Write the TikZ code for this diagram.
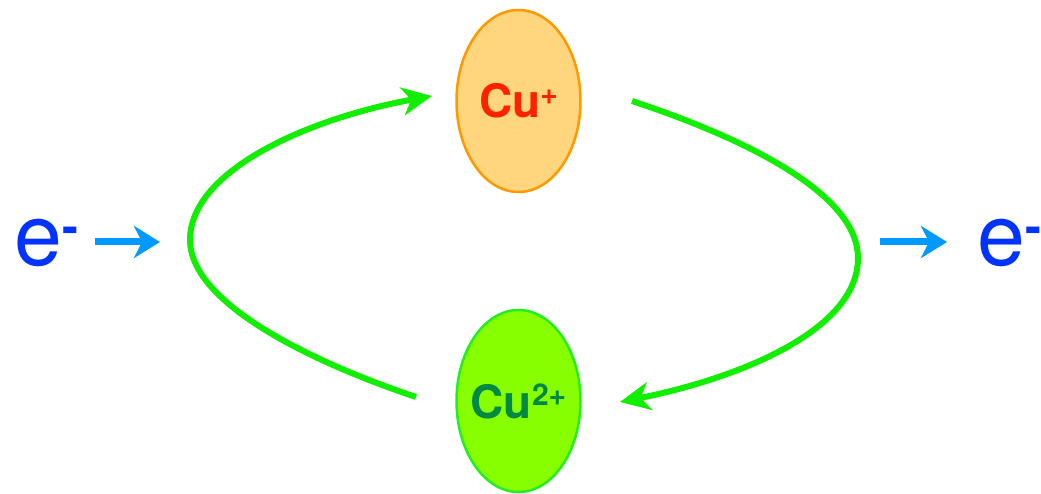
\documentclass[tikz,border=0pt]{standalone}
\usepackage{fontspec}
\setmainfont{TeX Gyre Heros}
\usetikzlibrary{arrows.meta,shapes.geometric}
\definecolor{orangeline}{HTML}{FF9900}
\definecolor{orangefill}{HTML}{FFD57D}
\definecolor{cuplus}{HTML}{FF2200}
\definecolor{greenfill}{HTML}{88FF00}
\definecolor{greenline}{HTML}{22EE22}
\definecolor{cutwo}{HTML}{008844}
\definecolor{arcgreen}{HTML}{11EE00}
\definecolor{eblue}{HTML}{0033FF}
\definecolor{arrblue}{HTML}{0099FF}
\newcommand{\emin}{{\fontsize{48}{48}\selectfont\bfseries\raisebox{23pt}{-}}}
\newcommand{\ionsup}[1]{{\fontsize{30}{30}\selectfont\bfseries\raisebox{13pt}{#1}}}
\tikzset{
  ion/.style={ellipse, minimum width=124pt, minimum height=182pt, line width=2.5pt, inner sep=0pt, font=\fontsize{46}{46}\selectfont\bfseries},
  cycle/.style={draw=arcgreen, line width=6pt, -{Stealth[length=30pt,width=28pt,inset=9pt]}},
  eflow/.style={draw=arrblue, line width=7pt, -{Stealth[length=26pt,width=32pt,inset=8pt]}},
  elec/.style={text=eblue, font=\fontsize{86}{86}\selectfont, inner sep=0pt}
}
\begin{document}
\begin{tikzpicture}[x=1pt,y=-1pt]
\useasboundingbox (0,0) rectangle (1041,494);
\node[ion, draw=orangeline, fill=orangefill, text=cuplus] (cup) at (518.5,101) {\makebox[0pt][c]{Cu\ionsup{+}}};
\node[ion, draw=greenline, fill=greenfill, text=cutwo] (cutwo) at (518.5,401) {\makebox[0pt][c]{Cu\ionsup{2+}}};
\coordinate (ls) at (416,397);
\coordinate (lm) at (190,240);
\coordinate (le) at (432,96);
\coordinate (rs) at (632,101);
\coordinate (rm) at (858,258);
\coordinate (re) at (620,402);
\draw[cycle] (ls) .. controls (300,358) and (190,300) .. (lm) .. controls (190,170) and (310,118) .. (le);
\draw[cycle] (rs) .. controls (750,140) and (858,195) .. (rm) .. controls (858,330) and (740,378) .. (re);
\node[elec, anchor=base west] (el) at (14,266) {e\emin};
\node[elec, anchor=base west] (er) at (977,266) {e\emin};
\coordinate (a1s) at (95,242);
\coordinate (a1e) at (160,242);
\coordinate (a2s) at (880,242);
\coordinate (a2e) at (947,242);
\draw[eflow] (a1s) -- (a1e);
\draw[eflow] (a2s) -- (a2e);
\end{tikzpicture}
\end{document}
